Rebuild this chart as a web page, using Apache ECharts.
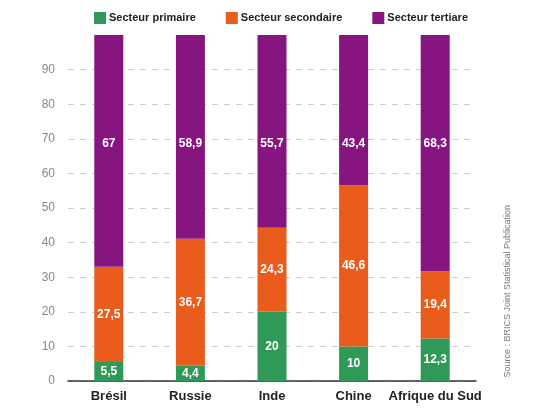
<!DOCTYPE html>
<html><head><meta charset="utf-8">
<script src="https://cdn.jsdelivr.net/npm/echarts@6/dist/echarts.min.js"></script>
<style>html,body{margin:0;padding:0;background:#fff}#c{width:533px;height:411px}</style>
</head><body><div id="c"></div>
<script>
const categories = ['Brésil', 'Russie', 'Inde', 'Chine', 'Afrique du Sud'];
const primaire = [5.5, 4.4, 20, 10, 12.3];
const secondaire = [27.5, 36.7, 24.3, 46.6, 19.4];
const tertiaire = [67, 58.9, 55.7, 43.4, 68.3];
const seriesNames = ['Secteur primaire', 'Secteur secondaire', 'Secteur tertiare'];
const sourceText = 'Source : BRICS Joint Statistical Publication';

const FONT = '"Liberation Sans", Arial, sans-serif';
const fmt = p => String(p.value).replace('.', ',');
const lbl = {show: true, color: '#fff', fontFamily: FONT, fontWeight: 'bold', fontSize: 12, formatter: fmt};

const chart = echarts.init(document.getElementById('c'), null, {renderer: 'canvas'});
chart.setOption({
  animation: false,
  backgroundColor: '#fff',
  legend: {
    top: 7, left: 89, itemWidth: 12, itemHeight: 12, itemGap: 30, icon: 'rect',
    textStyle: {fontFamily: FONT, fontWeight: 'bold', fontSize: 11, color: '#222', padding: [0, 0, 0, -2]},
    data: seriesNames
  },
  grid: {left: 68, right: 57, top: 35, bottom: 30},
  xAxis: {
    type: 'category', data: categories,
    axisLine: {lineStyle: {color: '#333', width: 1.5}},
    axisTick: {show: false},
    axisLabel: {interval: 0, fontFamily: FONT, fontWeight: 'bold', fontSize: 13, color: '#222', margin: 9}
  },
  yAxis: {
    type: 'value', min: 0, max: 100, interval: 10,
    axisLine: {show: false}, axisTick: {show: false},
    axisLabel: {fontFamily: FONT, fontSize: 12, color: '#888', margin: 13,
      formatter: v => v === 100 ? '' : String(v)},
    splitLine: {lineStyle: {type: [6, 6], width: 1,
      color: ['#ccc','#ccc','#ccc','#ccc','#ccc','#ccc','#ccc','#ccc','#ccc','#ccc','rgba(0,0,0,0)']}}
  },
  series: [
    {name: seriesNames[0], type: 'bar', stack: 't', data: primaire, barWidth: 29,
      itemStyle: {color: '#2f9a58'}, label: Object.assign({position: 'inside'}, lbl)},
    {name: seriesNames[1], type: 'bar', stack: 't', data: secondaire, barWidth: 29,
      itemStyle: {color: '#e95c1b'}, label: Object.assign({position: 'inside'}, lbl)},
    {name: seriesNames[2], type: 'bar', stack: 't', data: tertiaire, barWidth: 29,
      itemStyle: {color: '#86157f'}, label: Object.assign({position: 'insideTop', distance: 103}, lbl)}
  ],
  graphic: [{
    type: 'text', left: 503, top: 205, rotation: Math.PI / 2, originX: 0, originY: 0,
    style: {text: sourceText, fill: '#777', fontFamily: FONT, fontSize: 9}
  }]
});
</script></body></html>
